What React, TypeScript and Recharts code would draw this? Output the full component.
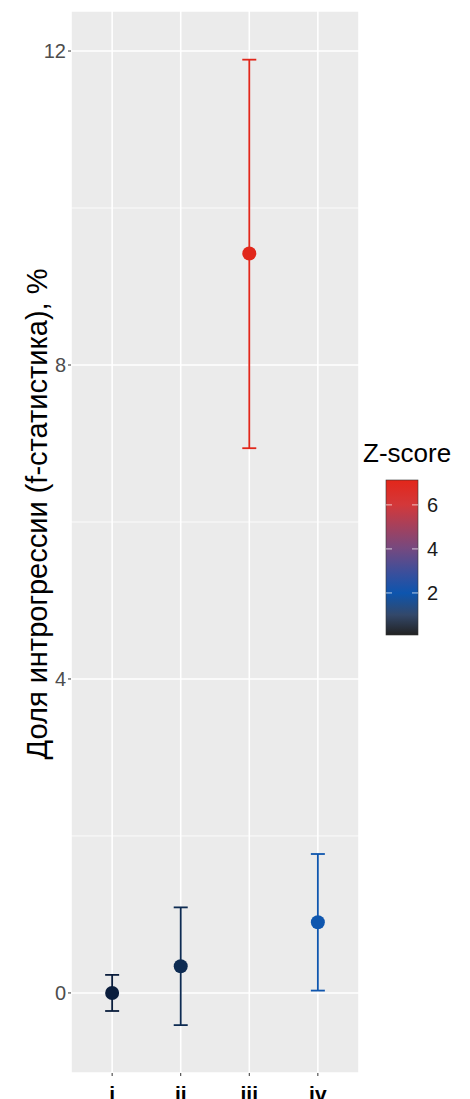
import React from 'react';
import {
  ScatterChart,
  Scatter,
  XAxis,
  YAxis,
  CartesianGrid,
  ErrorBar,
  ReferenceLine,
} from 'recharts';

// groups on the x axis
const categories = ['i', 'ii', 'iii', 'iv'];
// introgression share, % (point estimate and CI bounds)
const values = [0.0, 0.34, 9.42, 0.9];
const lower = [-0.23, -0.41, 6.94, 0.03];
const upper = [0.23, 1.09, 11.89, 1.77];
const zScores = [0.5, 0.7, 7.0, 2.0];
const yTicks = [0, 4, 8, 12];
const yMinorTicks = [2, 6, 10];
const legendTicks = [6, 4, 2];

// colour per point (keyed to the Z-score)
const pointColors = ['#0b1e3d', '#0d2b52', '#e1271b', '#0f56ae'];

const FONT = '"Liberation Sans", Arial, Helvetica, sans-serif';

const rows = categories.map((c, i) => ({
  x: i + 1,
  y: values[i],
  z: zScores[i],
  err: [values[i] - lower[i], upper[i] - values[i]],
}));

// colour bar geometry
const BAR_X = 386;
const BAR_W = 32;
const BAR_TOP = 480;
const BAR_H = 155;
const Z_TOP = 7.13;
const Z_BOTTOM = 0.09;
const zToY = (z: number) => BAR_TOP + ((Z_TOP - z) / (Z_TOP - Z_BOTTOM)) * BAR_H;

const App: React.FC = () => {
  return (
    <div
      style={{
        position: 'absolute',
        left: 0,
        top: 0,
        width: 470,
        height: 1099,
        background: '#ffffff',
        fontFamily: FONT,
        overflow: 'hidden',
      }}
    >
      <ScatterChart
        width={470}
        height={1099}
        margin={{ top: 11, right: 111, bottom: 0, left: 0 }}
      >
        <CartesianGrid fill="#ebebeb" stroke="#ffffff" strokeWidth={1.6} />
        {yMinorTicks.map((t) => (
          <ReferenceLine key={t} y={t} stroke="#ffffff" strokeWidth={0.8} />
        ))}
        <XAxis
          type="number"
          dataKey="x"
          domain={[0.4, 4.6]}
          ticks={[1, 2, 3, 4]}
          allowDataOverflow
          height={26}
          axisLine={false}
          tickSize={3}
          tickMargin={10}
          tickLine={{ stroke: '#333333', strokeWidth: 1 }}
          tickFormatter={(v: number) => categories[v - 1] ?? ''}
          tick={{ fontSize: 21, fontWeight: 'bold', fill: '#000000', fontFamily: FONT }}
        />
        <YAxis
          type="number"
          dataKey="y"
          domain={[-1.02, 12.51]}
          ticks={yTicks}
          allowDataOverflow
          width={71}
          axisLine={false}
          tickSize={3}
          tickMargin={2}
          tickLine={{ stroke: '#333333', strokeWidth: 1 }}
          tick={{ fontSize: 20, fill: '#4d4d4d', fontFamily: FONT }}
        />
        {rows.map((row, i) => (
          <Scatter
            key={categories[i]}
            data={[row]}
            fill={pointColors[i]}
            isAnimationActive={false}
            shape={(p: any) => (
              <circle cx={p.cx} cy={p.cy} r={7} fill={pointColors[i]} />
            )}
          >
            <ErrorBar
              dataKey="err"
              direction="y"
              width={7}
              stroke={pointColors[i]}
              strokeWidth={1.8}
              isAnimationActive={false}
            />
          </Scatter>
        ))}
      </ScatterChart>

      <svg
        width={470}
        height={1099}
        style={{ position: 'absolute', left: 0, top: 0, pointerEvents: 'none' }}
      >
        <defs>
          <linearGradient id="zgrad" x1="0" y1="0" x2="0" y2="1">
            <stop offset="0" stopColor="#e3261a" />
            <stop offset="0.16" stopColor="#d3383a" />
            <stop offset="0.44" stopColor="#76497f" />
            <stop offset="0.6" stopColor="#3a4f9c" />
            <stop offset="0.73" stopColor="#0d55ae" />
            <stop offset="0.87" stopColor="#33486a" />
            <stop offset="1" stopColor="#222222" />
          </linearGradient>
        </defs>
        <text
          x={47}
          y={514}
          transform="rotate(-90, 47, 514)"
          textAnchor="middle"
          fontSize={29}
          fill="#000000"
          fontFamily={FONT}
        >
          Доля интрогрессии (f-статистика), %
        </text>

        <text x={363} y={462} fontSize={26} fill="#000000" fontFamily={FONT}>
          Z-score
        </text>
        <rect
          x={BAR_X}
          y={BAR_TOP}
          width={BAR_W}
          height={BAR_H}
          fill="url(#zgrad)"
          stroke="#333333"
          strokeWidth={0.6}
        />
        {legendTicks.map((t) => (
          <g key={t}>
            <line
              x1={BAR_X}
              x2={BAR_X + 6}
              y1={zToY(t)}
              y2={zToY(t)}
              stroke="#ffffff"
              strokeOpacity={0.7}
              strokeWidth={1}
            />
            <line
              x1={BAR_X + BAR_W - 6}
              x2={BAR_X + BAR_W}
              y1={zToY(t)}
              y2={zToY(t)}
              stroke="#ffffff"
              strokeOpacity={0.7}
              strokeWidth={1}
            />
            <text
              x={427}
              y={zToY(t)}
              dy="0.36em"
              fontSize={20}
              fill="#1a1a1a"
              fontFamily={FONT}
            >
              {t}
            </text>
          </g>
        ))}
      </svg>
    </div>
  );
};

export default App;
